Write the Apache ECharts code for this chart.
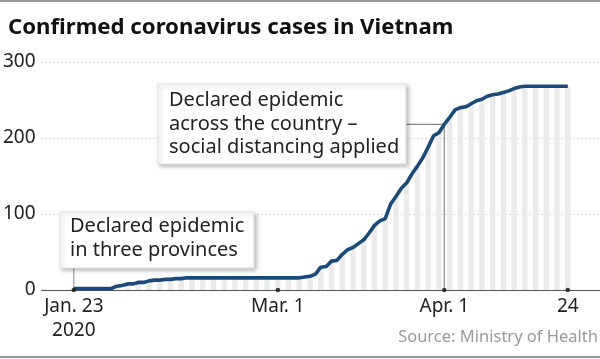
<!DOCTYPE html>
<html><head><meta charset="utf-8">
<script src="https://cdn.jsdelivr.net/npm/echarts@6/dist/echarts.min.js"></script>
<style>html,body{margin:0;padding:0;background:#fff}#c{width:600px;height:359px}</style>
</head><body><div id="c"></div>
<script>
const titleText = 'Confirmed coronavirus cases in Vietnam';
const sourceText = 'Source: Ministry of Health';
const startDate = '2020-01-23';
// cumulative confirmed cases, one value per day from Jan. 23 to Apr. 24, 2020
const cases = [
  2,2,2,2,2,2,2,2,5,6,
  8,8,10,10,12,13,13,14,14,15,
  15,16,16,16,16,16,16,16,16,16,
  16,16,16,16,16,16,16,16,16,16,
  16,16,16,17,18,21,30,31,38,39,
  47,53,56,61,66,75,85,91,94,113,
  123,134,141,153,163,174,188,203,207,218,
  227,237,240,241,245,249,251,255,257,258,
  260,262,265,267,268,268,268,268,268,268,
  268,268,268
];
const tickDates = ['2020-01-23','2020-03-01','2020-04-01','2020-04-24'];
const tickLabels = ['Jan. 23\n2020','Mar. 1','Apr. 1','24'];
const yTicks = [0,100,200,300];
const note1Date = '2020-01-23';
const note1Lines = ['Declared epidemic','in three provinces'];
const note2Date = '2020-04-01';
const note2Lines = ['Declared epidemic','across the country –','social distancing applied'];

const FONT = '"Noto Sans", Lato, sans-serif';
const dayIndex = d => Math.round((Date.parse(d) - Date.parse(startDate)) / 86400000);
const tickIdx = tickDates.map(dayIndex);
const labelMap = {};
tickIdx.forEach((t,i)=>labelMap[t]=tickLabels[i]);

const chart = echarts.init(document.getElementById('c'), null, {renderer:'canvas'});
chart.setOption({
  animation:false,
  backgroundColor:'#fff',
  title:{text:titleText,left:3,top:12,textStyle:{fontFamily:FONT,fontSize:22.2,fontWeight:'bold',color:'#111'}},
  grid:{left:40,right:0,top:62,bottom:69,containLabel:false},
  xAxis:{type:'value',min:-6,max:98,
    axisLine:{show:true,lineStyle:{color:'#555',width:1}},
    axisTick:{show:false},
    splitLine:{show:false},
    axisLabel:{customValues:tickIdx,formatter:v=>labelMap[v]||'',fontFamily:FONT,fontSize:19,color:'#222',lineHeight:24,margin:5}
  },
  yAxis:{type:'value',min:0,max:300,interval:100,
    axisLine:{show:false},axisTick:{show:false},
    splitLine:{show:true,lineStyle:{color:'#bbb',type:[1,3],width:1}},
    axisLabel:{fontFamily:FONT,fontSize:19,color:'#222',margin:6,formatter:v=>yTicks.includes(v)?String(v):''}
  },
  series:[
    {type:'bar',data:cases.map((v,i)=>i%2===0?[i,v]:[i,null]),barWidth:5.4,itemStyle:{color:'#ebebeb'},z:1,silent:true},
    {type:'line',data:cases.map((v,i)=>[i,v]),showSymbol:false,lineStyle:{color:'#1b4a7a',width:3.6},z:5,silent:true},
    {type:'scatter',data:tickIdx.map(t=>[t,0]),symbolSize:4.5,itemStyle:{color:'#111'},z:6,silent:true}
  ]
});

const P = (d,v)=>chart.convertToPixel({gridIndex:0},[d,v]);
const n1 = dayIndex(note1Date), n2 = dayIndex(note2Date);
const a1 = P(n1,0);
const a2 = P(n2,cases[n2]);
const a2b = P(n2,0);
const box1 = {x:60,y:212,w:194,h:56};
const box2 = {x:158,y:84,w:248,h:80};
const shadow = {shadowColor:'rgba(0,0,0,0.28)',shadowBlur:4,shadowOffsetX:2,shadowOffsetY:2};
chart.setOption({graphic:[
  {type:'line',z:1,shape:{x1:0,y1:1,x2:600,y2:1},style:{stroke:'#9a9a9a',lineWidth:2}},
  {type:'line',z:1,shape:{x1:0,y1:357,x2:600,y2:357},style:{stroke:'#9a9a9a',lineWidth:2}},
  {type:'line',z:1,shape:{x1:a1[0],y1:box1.y+box1.h,x2:a1[0],y2:a1[1]},style:{stroke:'#888',lineWidth:1}},
  {type:'line',z:1,shape:{x1:a2[0],y1:a2[1],x2:a2b[0],y2:a2b[1]},style:{stroke:'#888',lineWidth:1.2}},
  {type:'line',z:1,shape:{x1:box2.x+box2.w,y1:a2[1],x2:a2[0],y2:a2[1]},style:{stroke:'#888',lineWidth:1.2}},
  {type:'rect',z:100,shape:{x:box1.x,y:box1.y,width:box1.w,height:box1.h},style:Object.assign({fill:'#fff',stroke:'#e2e2e2',lineWidth:1},shadow)},
  {type:'text',z:101,x:box1.x+10,y:box1.y+3,style:{text:note1Lines.join('\n'),font:'20px '+FONT,fill:'#222',lineHeight:23.3,verticalAlign:'top'}},
  {type:'rect',z:100,shape:{x:box2.x,y:box2.y,width:box2.w,height:box2.h},style:Object.assign({fill:'#fff',stroke:'#e2e2e2',lineWidth:1},shadow)},
  {type:'text',z:101,x:box2.x+11,y:box2.y+5,style:{text:note2Lines.join('\n'),font:'20px '+FONT,fill:'#222',lineHeight:23.3,verticalAlign:'top'}},
  {type:'text',z:101,x:598,y:329,style:{text:sourceText,font:'16.5px '+FONT,fill:'#9a9a9a',align:'right',verticalAlign:'top'}}
]});
</script></body></html>
